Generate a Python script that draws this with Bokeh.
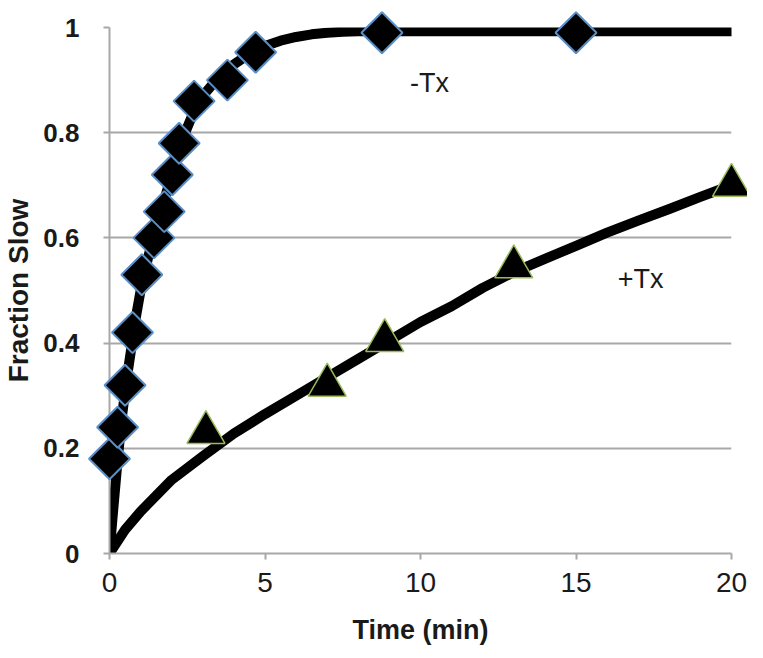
from bokeh.plotting import figure
from bokeh.models import Range1d, FixedTicker, NumeralTickFormatter, Label
from bokeh.embed import file_html
from bokeh.resources import INLINE

# -Tx measurements (diamonds)
minus_t = [0.0, 0.26, 0.5, 0.74, 1.04, 1.43, 1.76, 2.02, 2.24, 2.72, 3.79, 4.7, 8.76, 15.0]
minus_y = [0.18, 0.24, 0.32, 0.42, 0.53, 0.60, 0.65, 0.72, 0.78, 0.86, 0.90, 0.953, 0.99, 0.99]

# +Tx measurements (triangles)
plus_t = [3.1, 7.0, 8.85, 13.0, 20.0]
plus_y = [0.23, 0.32, 0.405, 0.545, 0.70]

# -Tx fitted curve
minus_fit_t = [0, 0.1, 0.25, 0.4, 0.55, 0.7, 0.85, 1.0, 1.25, 1.5, 1.75, 2.0, 2.25, 2.5,
               2.75, 3.0, 3.5, 4.0, 4.5, 5.0, 5.5, 6.0, 6.5, 7.0, 7.5, 8.0, 9.0, 10, 12, 15, 20]
minus_fit_y = [0, 0.07, 0.17, 0.26, 0.33, 0.39, 0.45, 0.50, 0.565, 0.62, 0.67, 0.72, 0.77, 0.81,
               0.845, 0.87, 0.905, 0.93, 0.95, 0.965, 0.975, 0.982, 0.987, 0.99, 0.992, 0.993,
               0.993, 0.993, 0.993, 0.993, 0.993]

# +Tx fitted curve
plus_fit_t = [0, 0.5, 1, 2, 3, 4, 5, 6, 7, 8, 9, 10, 11, 12, 13, 14, 15, 16, 17, 18, 19, 20]
plus_fit_y = [0, 0.045, 0.08, 0.14, 0.185, 0.228, 0.265, 0.30, 0.335, 0.37, 0.405, 0.44, 0.47,
              0.505, 0.535, 0.56, 0.585, 0.61, 0.633, 0.655, 0.678, 0.70]

x_ticks = [0, 5, 10, 15, 20]
y_ticks = [0, 0.2, 0.4, 0.6, 0.8, 1.0]

p = figure(width=747, height=650, x_range=Range1d(0, 20), y_range=Range1d(0, 1),
           output_backend="svg", toolbar_location=None,
           min_border_left=107, min_border_right=16, min_border_top=27, min_border_bottom=97)
p.outline_line_color = None
p.background_fill_color = "white"

grid_col = "#a8a8a8"
p.xgrid.grid_line_color = None
p.ygrid.ticker = FixedTicker(ticks=y_ticks)
p.ygrid.grid_line_color = grid_col
p.ygrid.grid_line_width = 2

p.xaxis.ticker = FixedTicker(ticks=x_ticks)
p.yaxis.ticker = FixedTicker(ticks=y_ticks)
p.yaxis.formatter = NumeralTickFormatter(format="0.[0]")

for ax in (p.xaxis, p.yaxis):
    ax.axis_line_color = grid_col
    ax.axis_line_width = 2
    ax.major_tick_line_color = grid_col
    ax.major_tick_line_width = 2
    ax.minor_tick_line_color = None
    ax.major_tick_in = 0
    ax.major_tick_out = 6
    ax.major_label_text_color = "#1a1a1a"
    ax.axis_label_text_color = "#1a1a1a"
    ax.axis_label_text_font_style = "bold"

p.yaxis.major_label_text_font = "Liberation Sans"
p.yaxis.major_label_text_font_style = "bold"
p.yaxis.major_label_text_font_size = "26px"
p.yaxis.major_label_standoff = 24
p.yaxis.axis_label = "Fraction Slow"
p.yaxis.axis_label_text_font = "Liberation Sans"
p.yaxis.axis_label_text_font_size = "28px"
p.yaxis.axis_label_standoff = 6

p.xaxis.major_label_text_font = "Liberation Sans"
p.xaxis.major_label_text_font_size = "28px"
p.xaxis.major_label_standoff = 13
p.xaxis.axis_label = "Time (min)"
p.xaxis.axis_label_text_font = "Liberation Sans"
p.xaxis.axis_label_text_font_size = "27px"
p.xaxis.axis_label_standoff = 20

p.line(minus_fit_t, minus_fit_y, line_color="black", line_width=10, line_join="round", line_cap="round")
p.line(plus_fit_t, plus_fit_y, line_color="black", line_width=10, line_join="round", line_cap="round")

p.scatter(minus_t, minus_y, marker="square", size=29, angle=0.785398,
          fill_color="black", line_color="#5b8fc7", line_width=2, level="overlay")
p.scatter(plus_t, plus_y, marker="triangle", size=38,
          fill_color="black", line_color="#9bbb59", line_width=1.5, level="overlay")

p.add_layout(Label(x=10.29, y=0.895, text="-Tx", text_align="center", text_baseline="middle",
                   text_font="Liberation Sans", text_font_size="27px", text_color="#1a1a1a"))
p.add_layout(Label(x=17.08, y=0.521, text="+Tx", text_align="center", text_baseline="middle",
                   text_font="Liberation Sans", text_font_size="27px", text_color="#1a1a1a"))

open("out.html", "w").write(file_html(p, INLINE))
